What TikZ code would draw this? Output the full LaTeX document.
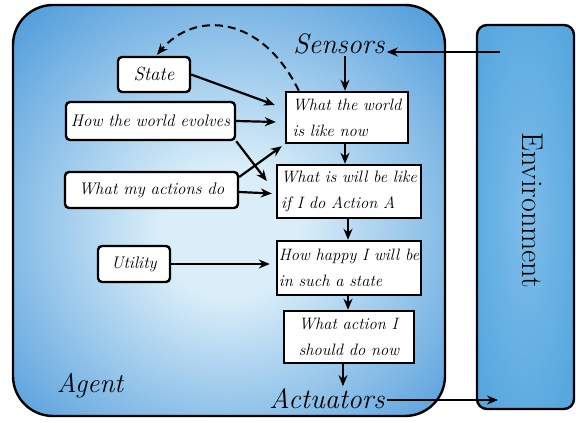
\documentclass[tikz,border=0pt]{standalone}
\usetikzlibrary{arrows.meta,calc}
\definecolor{agentblue}{HTML}{3A8FD6}
\definecolor{agentlight}{HTML}{DAEEF9}
\definecolor{envblue}{HTML}{58A8DF}
\definecolor{envlight}{HTML}{7DBDEA}
\pgfdeclareradialshading{agentglow}{\pgfpoint{0bp}{-3bp}}{color(0bp)=(agentlight); color(8bp)=(agentlight); color(40bp)=(agentblue); color(75bp)=(agentblue)}
\pgfdeclareradialshading{envglow}{\pgfpoint{0bp}{0bp}}{color(0bp)=(envlight); color(30bp)=(envblue); color(75bp)=(envblue)}
\begin{document}
\begin{tikzpicture}[x=1pt,y=1pt,
  arr/.style={line width=2.2pt,-{Stealth[length=11pt,width=9pt]}},
  dasharr/.style={line width=2pt,dash pattern=on 8pt off 5pt,-{Stealth[length=11pt,width=9pt]}},
  sbox/.style={draw,line width=2.4pt,fill=white,rounded corners=4pt,
    font=\fontsize{16.8}{19}\selectfont\itshape,inner sep=0pt},
  wbox/.style={draw,line width=2.4pt,fill=white,
    font=\fontsize{16.5}{26}\selectfont\itshape,align=left,inner sep=0pt},
  big/.style={font=\fontsize{28}{32}\selectfont\itshape,inner sep=2pt}]
\useasboundingbox (0,0) rectangle (576,423);
\fill[white] (0,0) rectangle (576,423);

% agent and environment containers
\node[draw,line width=2.4pt,rounded corners=40pt,shade,shading=agentglow,
  minimum width=432pt,minimum height=411pt,inner sep=0pt] (agent) at (229,212.5) {};
\node[draw,line width=2.4pt,rounded corners=10pt,shade,shading=envglow,
  minimum width=97pt,minimum height=384pt,inner sep=0pt] (env) at (525.5,206) {};
\node[rotate=-90,font=\fontsize{30}{32}\selectfont] (envlbl) at (533,213) {Environment};

% labels inside the agent
\node[big] (sens) at (339,379) {Sensors};
\node[big] (act) at (327,24.5) {Actuators};
\node[big,font=\fontsize{27}{30}\selectfont\itshape] (agentlbl) at (90,37) {Agent};

% main column
\node[wbox,minimum width=122pt,minimum height=51pt] (w1) at (347,305.5) {What the world\\is like now};
\node[wbox,minimum width=144pt,minimum height=53pt] (w2) at (349,231.5) {What is will be like\\if I do Action A};
\node[wbox,minimum width=144pt,minimum height=54pt] (w3) at (349,155) {How happy I will be\\in such a state};
\node[wbox,minimum width=130pt,minimum height=52pt] (w4) at (349,86) {What action I\\should do now};

% knowledge boxes
\node[sbox,minimum width=72pt,minimum height=35pt,font=\fontsize{19}{20}\selectfont\itshape] (state) at (154,348.5) {State};
\node[sbox,minimum width=169pt,minimum height=38pt] (evolves) at (150.5,302) {How the world evolves};
\node[sbox,minimum width=173pt,minimum height=36pt] (actions) at (151.5,233) {What my actions do};
\node[sbox,minimum width=72pt,minimum height=36pt] (utility) at (134,159) {Utility};

% percepts and actions
\coordinate (envS) at (500,371);
\coordinate (envA) at (498,23);
\draw[arr] (envS) -- (envS -| sens.east);
\draw[arr] (act.east |- envA) -- (envA);

% flow down the column
\draw[arr] ([xshift=6pt]sens.south) -- ([xshift=-2pt]w1.north);
\draw[arr] ([xshift=-2pt]w1.south) -- ([xshift=-4pt]w2.north);
\draw[arr] ([xshift=-1pt]w2.south) -- ([xshift=-1pt]w3.north);
\draw[arr] ([xshift=-1pt]w3.south) -- ([xshift=-1pt]w4.north);
\draw[arr] ([xshift=-6pt]w4.south) -- ([xshift=16pt]act.north);

% inputs from the knowledge boxes
\draw[arr] (state.east) -- ([shift={(-10pt,12.5pt)}]w1.west);
\draw[arr] (evolves.east) -- ([shift={(-9pt,-4.5pt)}]w1.west);
\draw[arr] (evolves.south east) -- ([shift={(-9pt,10.5pt)}]w2.west);
\draw[arr] ([yshift=13pt]actions.east) -- ([shift={(-3pt,-2pt)}]w1.south west);
\draw[arr] ([yshift=-2pt]actions.east) -- ([shift={(-4pt,-2pt)}]w2.west);
\draw[arr] (utility.east) -- ([shift={(-6pt,4pt)}]w3.west);

% state update
\draw[dasharr] ([xshift=14pt]w1.north west) .. controls (262,408) and (195,413) .. ([shift={(3pt,1pt)}]state.north);
\end{tikzpicture}
\end{document}
